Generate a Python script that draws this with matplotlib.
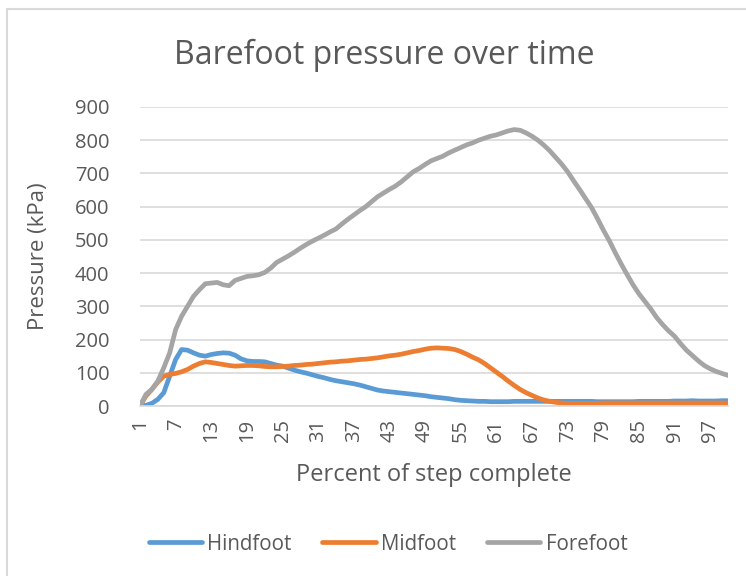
import matplotlib
matplotlib.use("Agg")
import matplotlib.pyplot as plt
from matplotlib.patches import Rectangle

plt.rcParams['font.family'] = ['Open Sans', 'DejaVu Sans']

# percent of step, 1..100
steps = list(range(1, 101))

hindfoot = [0, 2, 8, 20, 40, 90, 140, 170, 168, 160,
            153, 150, 155, 158, 160, 159, 153, 142, 136, 134,
            134, 133, 128, 123, 120, 114, 108, 103, 99, 94,
            89, 85, 80, 76, 73, 70, 67, 63, 58, 53,
            48, 45, 43, 41, 39, 37, 35, 33, 31, 28,
            26, 24, 22, 19, 17, 16, 15, 14, 14, 13,
            13, 13, 13, 14, 14, 14, 14, 14, 14, 14,
            14, 14, 14, 14, 14, 14, 14, 13, 13, 13,
            13, 13, 13, 13, 14, 14, 14, 14, 14, 14,
            15, 15, 15, 16, 15, 15, 15, 15, 16, 16]

midfoot = [0, 30, 50, 72, 90, 95, 98, 103, 110, 120,
           128, 133, 131, 128, 125, 122, 120, 121, 122, 122,
           121, 119, 118, 118, 119, 120, 122, 123, 125, 126,
           128, 130, 132, 133, 135, 136, 138, 140, 141, 143,
           145, 148, 151, 153, 156, 160, 164, 167, 171, 174,
           175, 174, 173, 170, 164, 156, 147, 139, 128, 115,
           102, 89, 75, 62, 50, 40, 32, 24, 18, 14,
           11, 9, 8, 8, 8, 8, 8, 8, 9, 9,
           9, 9, 9, 9, 9, 9, 9, 9, 9, 9,
           9, 9, 9, 9, 9, 9, 9, 9, 9, 9]

forefoot = [0, 35, 50, 75, 115, 160, 230, 270, 300, 330,
            350, 368, 370, 372, 365, 362, 378, 384, 390, 392,
            395, 402, 415, 432, 442, 452, 463, 475, 486, 496,
            505, 514, 524, 533, 548, 562, 575, 588, 600, 615,
            630, 641, 652, 662, 675, 690, 705, 715, 727, 738,
            745, 752, 762, 770, 778, 786, 792, 800, 806, 812,
            816, 822, 828, 832, 830, 822, 812, 800, 785, 768,
            748, 728, 705, 678, 652, 625, 598, 565, 530, 498,
            462, 428, 396, 365, 338, 315, 292, 266, 245, 226,
            210, 188, 168, 152, 136, 122, 112, 104, 98, 92]

series_names = ['Hindfoot', 'Midfoot', 'Forefoot']
colors = ['#5B9BD5', '#ED7D31', '#A5A5A5']
text_col = '#595959'

fig = plt.figure(figsize=(7.46, 5.76), dpi=100)
ax = fig.add_axes([140/746, 1 - 406/576, 588/746, 299/576])

for vals, name, c in zip([hindfoot, midfoot, forefoot], series_names, colors):
    ax.plot(steps, vals, color=c, lw=3.4, label=name,
            solid_capstyle='round', solid_joinstyle='round')

ax.set_xlim(1, 100)
ax.set_ylim(0, 900)
ax.set_yticks(range(0, 1000, 100))
ax.set_xticks(steps[::6])
ax.set_xticklabels([str(s) for s in steps[::6]], rotation=90)
ax.tick_params(axis='both', length=0, labelsize=14.5, colors=text_col)
ax.tick_params(axis='y', pad=22)
ax.tick_params(axis='x', pad=9)
ax.grid(axis='y', color='#D9D9D9', lw=1.2)
ax.set_axisbelow(True)
for s in ['top', 'right', 'left']:
    ax.spines[s].set_visible(False)
ax.spines['bottom'].set_color('#D9D9D9')
ax.spines['bottom'].set_linewidth(1.2)

ax.set_ylabel('Pressure (kPa)', fontsize=16, color=text_col)
ax.yaxis.set_label_coords(-0.155, 0.5)
ax.set_xlabel('Percent of step complete', fontsize=17, color=text_col)
ax.xaxis.set_label_coords(0.5, -0.19)

fig.text(384/746, 1 - 55/576, 'Barefoot pressure over time', ha='center', va='center',
         fontsize=23, color=text_col)

fig.legend(loc='center', bbox_to_anchor=(388/746, 1 - 544/576), ncol=3, frameon=False,
           fontsize=14.8, labelcolor=text_col, handlelength=2.6, handletextpad=0.25,
           columnspacing=1.5)

fig.patches.append(Rectangle((7/746, (1 - 9/576) - 2), 2, 2, transform=fig.transFigure,
                             fill=False, edgecolor='#D9D9D9', lw=1.5, figure=fig))

fig.savefig('out.png', dpi=100)
